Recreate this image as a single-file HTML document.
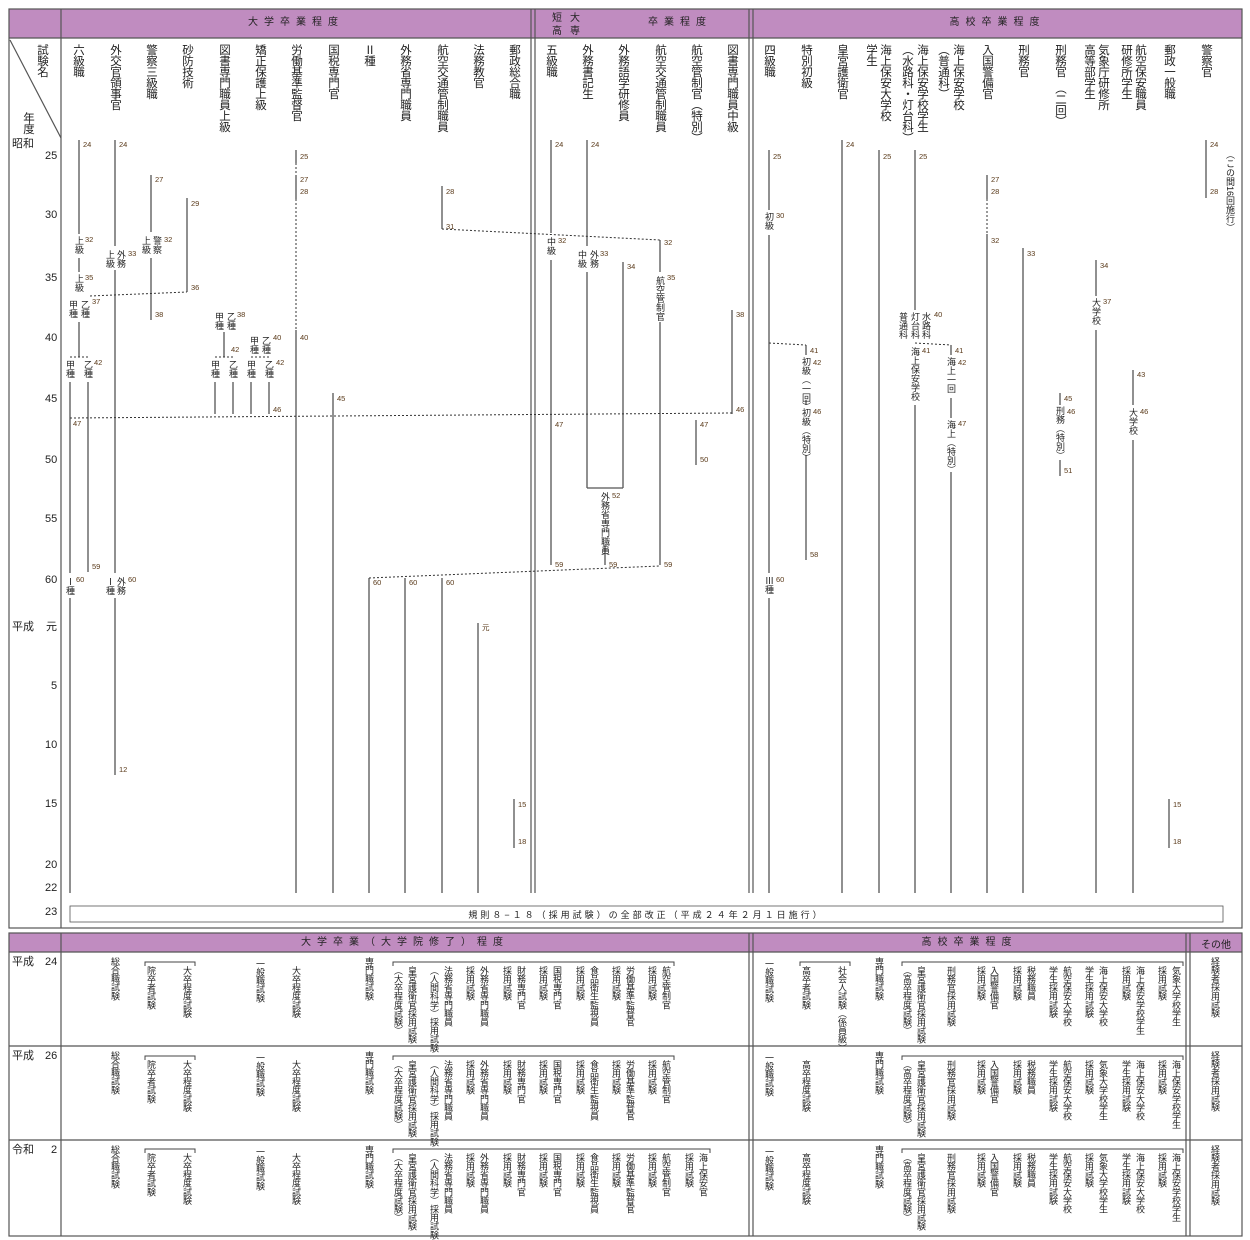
<!DOCTYPE html>
<html><head><meta charset="utf-8"><style>
body{margin:0;background:#fff;width:1250px;height:1240px;position:relative;overflow:hidden;font-family:"Liberation Sans","Noto Sans CJK JP",sans-serif;color:#222}
.a{position:absolute;white-space:nowrap}
.v{position:absolute;writing-mode:vertical-rl;font-size:11.5px;line-height:12px;top:44px;white-space:nowrap;letter-spacing:-0.5px}
.s{position:absolute;writing-mode:vertical-rl;font-size:9px;line-height:9px;white-space:nowrap}
.b{position:absolute;writing-mode:vertical-rl;font-size:9px;line-height:10px;white-space:nowrap;letter-spacing:-0.4px}
.n{position:absolute;font-size:7.5px;line-height:8px;color:#5a3a1a}
.y{position:absolute;font-size:11px;line-height:11px}
.h{position:absolute;font-size:10px;letter-spacing:6px;text-align:center;line-height:12px}
</style></head><body>
<svg width="1250" height="1240" style="position:absolute;left:0;top:0">
<g fill="#c08cc0" stroke="none">
<rect x="9" y="9" width="1233" height="29"/>
<rect x="9" y="933" width="1233" height="19"/>
</g>
<g fill="none" stroke="#555" stroke-width="1.2">
<rect x="9" y="9" width="1233" height="919"/>
<line x1="9" y1="38" x2="1242" y2="38"/>
<line x1="61" y1="9" x2="61" y2="928"/>
<line x1="531" y1="9" x2="531" y2="893"/><line x1="535" y1="9" x2="535" y2="893"/>
<line x1="749" y1="9" x2="749" y2="893"/><line x1="753" y1="9" x2="753" y2="893"/>
<line x1="10" y1="40" x2="61" y2="138"/>
<rect x="70" y="906" width="1153" height="16" stroke-width="0.8"/>
<rect x="9" y="933" width="1233" height="303"/>
<line x1="9" y1="952" x2="1242" y2="952"/>
<line x1="61" y1="933" x2="61" y2="1236"/>
<line x1="749" y1="933" x2="749" y2="1236"/><line x1="753" y1="933" x2="753" y2="1236"/>
<line x1="1186" y1="933" x2="1186" y2="1236"/><line x1="1190" y1="933" x2="1190" y2="1236"/>
<line x1="9" y1="1046" x2="1242" y2="1046"/>
<line x1="9" y1="1140" x2="1242" y2="1140"/>
</g>
<g stroke="#444" stroke-width="1" fill="none">
<polyline points="145,966 145,962 195,962 195,966"/>
<polyline points="145,1060 145,1056 195,1056 195,1060"/>
<polyline points="145,1153 145,1149 195,1149 195,1153"/>
<polyline points="393,966 393,962 674,962 674,966"/>
<polyline points="393,1060 393,1056 674,1056 674,1060"/>
<polyline points="393,1153 393,1149 710,1149 710,1153"/>
<polyline points="800,966 800,962 850,962 850,966"/>
<polyline points="902,966 902,962 1183,962 1183,966"/>
<polyline points="902,1060 902,1056 1183,1056 1183,1060"/>
<polyline points="902,1153 902,1149 1183,1149 1183,1153"/>
</g>
<g stroke="#555" stroke-width="1.3" fill="none">
<line x1="79" y1="140" x2="79" y2="234"/><line x1="79" y1="258" x2="79" y2="272"/>
<line x1="79" y1="322" x2="79" y2="357"/>
<line x1="70" y1="382" x2="70" y2="573"/><line x1="70" y1="598" x2="70" y2="893"/>
<line x1="88" y1="382" x2="88" y2="572"/>
<line x1="115" y1="140" x2="115" y2="246"/><line x1="115" y1="270" x2="115" y2="573"/><line x1="115" y1="598" x2="115" y2="775"/>
<line x1="151" y1="175" x2="151" y2="232"/><line x1="151" y1="258" x2="151" y2="320"/>
<line x1="187" y1="198" x2="187" y2="292"/>
<line x1="224" y1="332" x2="224" y2="357"/>
<line x1="215" y1="382" x2="215" y2="414"/><line x1="233" y1="382" x2="233" y2="414"/>
<line x1="251" y1="382" x2="251" y2="414"/><line x1="269" y1="382" x2="269" y2="414"/>
<line x1="296" y1="150" x2="296" y2="163"/><line x1="296" y1="175" x2="296" y2="199"/>
<line x1="296" y1="330" x2="296" y2="893"/>
<line x1="333" y1="393" x2="333" y2="893"/>
<line x1="369" y1="578" x2="369" y2="893"/>
<line x1="405" y1="578" x2="405" y2="893"/>
<line x1="442" y1="186" x2="442" y2="229"/><line x1="442" y1="578" x2="442" y2="893"/>
<line x1="478" y1="623" x2="478" y2="893"/>
<line x1="514" y1="799" x2="514" y2="848"/>
<line x1="551" y1="140" x2="551" y2="233"/><line x1="551" y1="260" x2="551" y2="565"/>
<line x1="587" y1="140" x2="587" y2="246"/><line x1="587" y1="272" x2="587" y2="488"/>
<line x1="623" y1="262" x2="623" y2="488"/><line x1="587" y1="488" x2="623" y2="488"/>
<line x1="605" y1="545" x2="605" y2="565"/>
<line x1="660" y1="240" x2="660" y2="272"/><line x1="660" y1="322" x2="660" y2="565"/>
<line x1="696" y1="420" x2="696" y2="465"/>
<line x1="732" y1="310" x2="732" y2="414"/>
<line x1="769" y1="150" x2="769" y2="210"/><line x1="769" y1="235" x2="769" y2="573"/><line x1="769" y1="598" x2="769" y2="893"/>
<line x1="806" y1="345" x2="806" y2="355"/><line x1="806" y1="400" x2="806" y2="405"/><line x1="806" y1="455" x2="806" y2="560"/>
<line x1="842" y1="140" x2="842" y2="893"/>
<line x1="879" y1="150" x2="879" y2="893"/>
<line x1="915" y1="150" x2="915" y2="310"/><line x1="915" y1="405" x2="915" y2="893"/>
<line x1="951" y1="345" x2="951" y2="355"/><line x1="951" y1="398" x2="951" y2="418"/><line x1="951" y1="472" x2="951" y2="893"/>
<line x1="987" y1="175" x2="987" y2="199"/><line x1="987" y1="234" x2="987" y2="893"/>
<line x1="1023" y1="248" x2="1023" y2="893"/>
<line x1="1060" y1="393" x2="1060" y2="405"/><line x1="1060" y1="460" x2="1060" y2="476"/>
<line x1="1096" y1="260" x2="1096" y2="296"/><line x1="1096" y1="330" x2="1096" y2="893"/>
<line x1="1133" y1="370" x2="1133" y2="405"/><line x1="1133" y1="440" x2="1133" y2="893"/>
<line x1="1169" y1="799" x2="1169" y2="848"/>
<line x1="1206" y1="140" x2="1206" y2="198"/>
</g>
<g stroke="#333" stroke-width="1" stroke-dasharray="2,2" fill="none">
<line x1="90" y1="296" x2="187" y2="292"/>
<line x1="70" y1="357" x2="88" y2="357"/>
<line x1="215" y1="357" x2="233" y2="357"/>
<line x1="251" y1="357" x2="269" y2="357"/>
<line x1="70" y1="418" x2="732" y2="413"/>
<line x1="296" y1="199" x2="296" y2="330"/>
<line x1="296" y1="163" x2="296" y2="175"/>
<line x1="442" y1="229" x2="660" y2="240"/>
<line x1="369" y1="578" x2="660" y2="566"/>
<line x1="769" y1="343" x2="806" y2="345"/>
<line x1="915" y1="343" x2="951" y2="345"/>
<line x1="987" y1="199" x2="987" y2="234"/>
</g>
</svg>

<div class="h" style="left:61px;top:17px;width:470px">大学卒業程度</div>
<div class="a" style="left:552px;top:12px;font-size:10px;line-height:13px;letter-spacing:8px">短大<br>高専</div>
<div class="h" style="left:620px;top:17px;width:120px">卒業程度</div>
<div class="h" style="left:753px;top:17px;width:489px">高校卒業程度</div>
<div class="v" style="left:36px">試験名</div>
<div class="v" style="left:22px;top:112px">年度</div>
<div class="y" style="left:12px;top:139px">昭和</div>
<div class="y" style="left:45px;top:151px">25</div>
<div class="y" style="left:45px;top:210px">30</div>
<div class="y" style="left:45px;top:273px">35</div>
<div class="y" style="left:45px;top:333px">40</div>
<div class="y" style="left:45px;top:394px">45</div>
<div class="y" style="left:45px;top:455px">50</div>
<div class="y" style="left:45px;top:514px">55</div>
<div class="y" style="left:45px;top:575px">60</div>
<div class="y" style="left:12px;top:622px">平成</div>
<div class="y" style="left:46px;top:622px">元</div>
<div class="y" style="left:51px;top:681px">5</div>
<div class="y" style="left:45px;top:740px">10</div>
<div class="y" style="left:45px;top:799px">15</div>
<div class="y" style="left:45px;top:860px">20</div>
<div class="y" style="left:45px;top:883px">22</div>
<div class="y" style="left:45px;top:907px">23</div>
<div class="a" style="left:70px;top:908px;width:1153px;text-align:center;font-size:9px;letter-spacing:3px">規則８−１８（採用試験）の全部改正（平成２４年２月１日施行）</div>

<div class="v" style="left:72px">六級職</div>
<div class="v" style="left:109px">外交官領事官</div>
<div class="v" style="left:145px">警察三級職</div>
<div class="v" style="left:181px">砂防技術</div>
<div class="v" style="left:218px">図書専門職員上級</div>
<div class="v" style="left:254px">矯正保護上級</div>
<div class="v" style="left:290px">労働基準監督官</div>
<div class="v" style="left:327px">国税専門官</div>
<div class="v" style="left:363px">Ⅱ種</div>
<div class="v" style="left:399px">外務省専門職員</div>
<div class="v" style="left:436px">航空交通管制職員</div>
<div class="v" style="left:472px">法務教官</div>
<div class="v" style="left:508px">郵政総合職</div>
<div class="v" style="left:545px">五級職</div>
<div class="v" style="left:581px">外務書記生</div>
<div class="v" style="left:617px">外務語学研修員</div>
<div class="v" style="left:654px">航空交通管制職員</div>
<div class="v" style="left:690px">航空管制官（特別）</div>
<div class="v" style="left:726px">図書専門職員中級</div>
<div class="v" style="left:763px">四級職</div>
<div class="v" style="left:800px">特別初級</div>
<div class="v" style="left:836px">皇宮護衛官</div>
<div class="v" style="left:865px">学生</div>
<div class="v" style="left:879px">海上保安大学校</div>
<div class="v" style="left:901px">（水路科・灯台科）</div>
<div class="v" style="left:916px">海上保安学校学生</div>
<div class="v" style="left:937px">（普通科）</div>
<div class="v" style="left:952px">海上保安学校</div>
<div class="v" style="left:981px">入国警備官</div>
<div class="v" style="left:1017px">刑務官</div>
<div class="v" style="left:1054px">刑務官　（二回）</div>
<div class="v" style="left:1083px">高等部学生</div>
<div class="v" style="left:1097px">気象庁研修所</div>
<div class="v" style="left:1120px">研修所学生</div>
<div class="v" style="left:1134px">航空保安職員</div>
<div class="v" style="left:1163px">郵政一般職</div>
<div class="v" style="left:1200px">警察官</div>
<div class="s" style="left:1225px;top:150px">（この間16回施行）</div>

<div class="s" style="left:74px;top:236px">上級</div>
<div class="s" style="left:74px;top:274px">上級</div>
<div class="s" style="left:68px;top:300px">甲種</div><div class="s" style="left:80px;top:300px">乙種</div>
<div class="s" style="left:65px;top:360px">甲種</div><div class="s" style="left:83px;top:360px">乙種</div>
<div class="s" style="left:65px;top:577px">Ⅰ種</div>
<div class="s" style="left:105px;top:250px">上級</div><div class="s" style="left:116px;top:250px">外務</div>
<div class="s" style="left:105px;top:577px">Ⅰ種</div><div class="s" style="left:116px;top:577px">外務</div>
<div class="s" style="left:141px;top:236px">上級</div><div class="s" style="left:152px;top:236px">警察</div>
<div class="s" style="left:214px;top:312px">甲種</div><div class="s" style="left:226px;top:312px">乙種</div>
<div class="s" style="left:210px;top:360px">甲種</div><div class="s" style="left:228px;top:360px">乙種</div>
<div class="s" style="left:249px;top:336px">甲種</div><div class="s" style="left:261px;top:336px">乙種</div>
<div class="s" style="left:246px;top:360px">甲種</div><div class="s" style="left:264px;top:360px">乙種</div>
<div class="s" style="left:546px;top:237px">中級</div>
<div class="s" style="left:577px;top:250px">中級</div><div class="s" style="left:589px;top:250px">外務</div>
<div class="s" style="left:600px;top:492px">外務省専門職員</div>
<div class="s" style="left:655px;top:276px">航空管制官</div>
<div class="s" style="left:764px;top:212px">初級</div>
<div class="s" style="left:764px;top:576px">Ⅲ種</div>
<div class="s" style="left:801px;top:357px">初級︵一回︶</div>
<div class="s" style="left:801px;top:408px">初級︵特別︶</div>
<div class="s" style="left:898px;top:312px">普通科</div><div class="s" style="left:910px;top:312px">灯台科</div><div class="s" style="left:921px;top:312px">水路科</div>
<div class="s" style="left:910px;top:347px">海上保安学校</div>
<div class="s" style="left:946px;top:357px">海上一回</div>
<div class="s" style="left:946px;top:420px">海上︵特別︶</div>
<div class="s" style="left:1055px;top:406px">刑務︵特別︶</div>
<div class="s" style="left:1091px;top:298px">大学校</div>
<div class="s" style="left:1128px;top:408px">大学校</div>

<div class="n" style="left:83px;top:141px">24</div><div class="n" style="left:119px;top:141px">24</div>
<div class="n" style="left:85px;top:236px">32</div><div class="n" style="left:85px;top:274px">35</div>
<div class="n" style="left:92px;top:298px">37</div><div class="n" style="left:94px;top:359px">42</div>
<div class="n" style="left:73px;top:420px">47</div><div class="n" style="left:92px;top:563px">59</div>
<div class="n" style="left:76px;top:576px">60</div><div class="n" style="left:128px;top:576px">60</div>
<div class="n" style="left:128px;top:250px">33</div><div class="n" style="left:119px;top:766px">12</div>
<div class="n" style="left:155px;top:176px">27</div><div class="n" style="left:164px;top:236px">32</div><div class="n" style="left:155px;top:311px">38</div>
<div class="n" style="left:191px;top:200px">29</div><div class="n" style="left:191px;top:284px">36</div>
<div class="n" style="left:237px;top:311px">38</div><div class="n" style="left:231px;top:346px">42</div>
<div class="n" style="left:273px;top:334px">40</div><div class="n" style="left:276px;top:359px">42</div><div class="n" style="left:273px;top:406px">46</div>
<div class="n" style="left:300px;top:153px">25</div><div class="n" style="left:300px;top:176px">27</div><div class="n" style="left:300px;top:188px">28</div><div class="n" style="left:300px;top:334px">40</div>
<div class="n" style="left:337px;top:395px">45</div>
<div class="n" style="left:373px;top:579px">60</div><div class="n" style="left:409px;top:579px">60</div><div class="n" style="left:446px;top:579px">60</div>
<div class="n" style="left:446px;top:188px">28</div><div class="n" style="left:446px;top:223px">31</div>
<div class="n" style="left:482px;top:624px">元</div>
<div class="n" style="left:518px;top:801px">15</div><div class="n" style="left:518px;top:838px">18</div>
<div class="n" style="left:555px;top:141px">24</div><div class="n" style="left:558px;top:237px">32</div><div class="n" style="left:555px;top:421px">47</div><div class="n" style="left:555px;top:561px">59</div>
<div class="n" style="left:591px;top:141px">24</div><div class="n" style="left:600px;top:250px">33</div>
<div class="n" style="left:627px;top:263px">34</div><div class="n" style="left:612px;top:492px">52</div><div class="n" style="left:609px;top:561px">59</div>
<div class="n" style="left:664px;top:239px">32</div><div class="n" style="left:667px;top:274px">35</div><div class="n" style="left:664px;top:561px">59</div>
<div class="n" style="left:700px;top:421px">47</div><div class="n" style="left:700px;top:456px">50</div>
<div class="n" style="left:736px;top:311px">38</div><div class="n" style="left:736px;top:406px">46</div>
<div class="n" style="left:773px;top:153px">25</div><div class="n" style="left:776px;top:212px">30</div><div class="n" style="left:776px;top:576px">60</div>
<div class="n" style="left:810px;top:347px">41</div><div class="n" style="left:813px;top:359px">42</div><div class="n" style="left:813px;top:408px">46</div><div class="n" style="left:810px;top:551px">58</div>
<div class="n" style="left:846px;top:141px">24</div><div class="n" style="left:883px;top:153px">25</div><div class="n" style="left:919px;top:153px">25</div>
<div class="n" style="left:934px;top:311px">40</div><div class="n" style="left:922px;top:347px">41</div>
<div class="n" style="left:955px;top:347px">41</div><div class="n" style="left:958px;top:359px">42</div><div class="n" style="left:958px;top:420px">47</div>
<div class="n" style="left:991px;top:176px">27</div><div class="n" style="left:991px;top:188px">28</div><div class="n" style="left:991px;top:237px">32</div>
<div class="n" style="left:1027px;top:250px">33</div>
<div class="n" style="left:1064px;top:395px">45</div><div class="n" style="left:1067px;top:408px">46</div><div class="n" style="left:1064px;top:467px">51</div>
<div class="n" style="left:1100px;top:262px">34</div><div class="n" style="left:1103px;top:298px">37</div>
<div class="n" style="left:1137px;top:371px">43</div><div class="n" style="left:1140px;top:408px">46</div>
<div class="n" style="left:1173px;top:801px">15</div><div class="n" style="left:1173px;top:838px">18</div>
<div class="n" style="left:1210px;top:141px">24</div><div class="n" style="left:1210px;top:188px">28</div>

<div class="h" style="left:61px;top:937px;width:688px">大学卒業（大学院修了）程度</div>
<div class="h" style="left:753px;top:937px;width:433px">高校卒業程度</div>
<div class="a" style="left:1190px;top:936px;width:52px;text-align:center;font-size:10px">その他</div>
<div class="y" style="left:12px;top:957px">平成</div><div class="y" style="left:45px;top:957px">24</div>
<div class="y" style="left:12px;top:1051px">平成</div><div class="y" style="left:45px;top:1051px">26</div>
<div class="y" style="left:12px;top:1145px">令和</div><div class="y" style="left:51px;top:1145px">2</div>

<div class="b" style="left:110px;top:957px">総合職試験</div><div class="b" style="left:146px;top:966px">院卒者試験</div><div class="b" style="left:182px;top:966px">大卒程度試験</div>
<div class="b" style="left:255px;top:959px">一般職試験</div><div class="b" style="left:291px;top:966px">大卒程度試験</div><div class="b" style="left:364px;top:957px">専門職試験</div>
<div class="b" style="left:393px;top:966px">（大卒程度試験）</div><div class="b" style="left:407px;top:966px">皇宮護衛官採用試験</div>
<div class="b" style="left:429px;top:966px">（人間科学）採用試験</div><div class="b" style="left:443px;top:966px">法務省専門職員</div>
<div class="b" style="left:465px;top:966px">採用試験</div><div class="b" style="left:479px;top:966px">外務省専門職員</div>
<div class="b" style="left:502px;top:966px">採用試験</div><div class="b" style="left:516px;top:966px">財務専門官</div>
<div class="b" style="left:538px;top:966px">採用試験</div><div class="b" style="left:552px;top:966px">国税専門官</div>
<div class="b" style="left:575px;top:966px">採用試験</div><div class="b" style="left:589px;top:966px">食品衛生監視員</div>
<div class="b" style="left:611px;top:966px">採用試験</div><div class="b" style="left:625px;top:966px">労働基準監督官</div>
<div class="b" style="left:647px;top:966px">採用試験</div><div class="b" style="left:661px;top:966px">航空管制官</div>
<div class="b" style="left:764px;top:959px">一般職試験</div><div class="b" style="left:801px;top:966px">高卒者試験</div><div class="b" style="left:837px;top:966px">社会人試験（係員級）</div>
<div class="b" style="left:874px;top:957px">専門職試験</div>
<div class="b" style="left:902px;top:966px">（高卒程度試験）</div><div class="b" style="left:916px;top:966px">皇宮護衛官採用試験</div>
<div class="b" style="left:946px;top:966px">刑務官採用試験</div>
<div class="b" style="left:976px;top:966px">採用試験</div><div class="b" style="left:989px;top:966px">入国警備官</div>
<div class="b" style="left:1012px;top:966px">採用試験</div><div class="b" style="left:1026px;top:966px">税務職員</div>
<div class="b" style="left:1048px;top:966px">学生採用試験</div><div class="b" style="left:1062px;top:966px">航空保安大学校</div>
<div class="b" style="left:1084px;top:966px">学生採用試験</div><div class="b" style="left:1098px;top:966px">海上保安大学校</div>
<div class="b" style="left:1121px;top:966px">採用試験</div><div class="b" style="left:1135px;top:966px">海上保安学校学生</div>
<div class="b" style="left:1157px;top:966px">採用試験</div><div class="b" style="left:1171px;top:966px">気象大学校学生</div>
<div class="b" style="left:1210px;top:957px">経験者採用試験</div>

<div class="b" style="left:110px;top:1051px">総合職試験</div><div class="b" style="left:146px;top:1060px">院卒者試験</div><div class="b" style="left:182px;top:1060px">大卒程度試験</div>
<div class="b" style="left:255px;top:1053px">一般職試験</div><div class="b" style="left:291px;top:1060px">大卒程度試験</div><div class="b" style="left:364px;top:1051px">専門職試験</div>
<div class="b" style="left:393px;top:1060px">（大卒程度試験）</div><div class="b" style="left:407px;top:1060px">皇宮護衛官採用試験</div>
<div class="b" style="left:429px;top:1060px">（人間科学）採用試験</div><div class="b" style="left:443px;top:1060px">法務省専門職員</div>
<div class="b" style="left:465px;top:1060px">採用試験</div><div class="b" style="left:479px;top:1060px">外務省専門職員</div>
<div class="b" style="left:502px;top:1060px">採用試験</div><div class="b" style="left:516px;top:1060px">財務専門官</div>
<div class="b" style="left:538px;top:1060px">採用試験</div><div class="b" style="left:552px;top:1060px">国税専門官</div>
<div class="b" style="left:575px;top:1060px">採用試験</div><div class="b" style="left:589px;top:1060px">食品衛生監視員</div>
<div class="b" style="left:611px;top:1060px">採用試験</div><div class="b" style="left:625px;top:1060px">労働基準監督官</div>
<div class="b" style="left:647px;top:1060px">採用試験</div><div class="b" style="left:661px;top:1060px">航空管制官</div>
<div class="b" style="left:764px;top:1053px">一般職試験</div><div class="b" style="left:801px;top:1060px">高卒程度試験</div>
<div class="b" style="left:874px;top:1051px">専門職試験</div>
<div class="b" style="left:902px;top:1060px">（高卒程度試験）</div><div class="b" style="left:916px;top:1060px">皇宮護衛官採用試験</div>
<div class="b" style="left:946px;top:1060px">刑務官採用試験</div>
<div class="b" style="left:976px;top:1060px">採用試験</div><div class="b" style="left:989px;top:1060px">入国警備官</div>
<div class="b" style="left:1012px;top:1060px">採用試験</div><div class="b" style="left:1026px;top:1060px">税務職員</div>
<div class="b" style="left:1048px;top:1060px">学生採用試験</div><div class="b" style="left:1062px;top:1060px">航空保安大学校</div>
<div class="b" style="left:1084px;top:1060px">採用試験</div><div class="b" style="left:1098px;top:1060px">気象大学校学生</div>
<div class="b" style="left:1121px;top:1060px">学生採用試験</div><div class="b" style="left:1135px;top:1060px">海上保安大学校</div>
<div class="b" style="left:1157px;top:1060px">採用試験</div><div class="b" style="left:1171px;top:1060px">海上保安学校学生</div>
<div class="b" style="left:1210px;top:1051px">経験者採用試験</div>

<div class="b" style="left:110px;top:1145px">総合職試験</div><div class="b" style="left:146px;top:1153px">院卒者試験</div><div class="b" style="left:182px;top:1153px">大卒程度試験</div>
<div class="b" style="left:255px;top:1147px">一般職試験</div><div class="b" style="left:291px;top:1153px">大卒程度試験</div><div class="b" style="left:364px;top:1145px">専門職試験</div>
<div class="b" style="left:393px;top:1153px">（大卒程度試験）</div><div class="b" style="left:407px;top:1153px">皇宮護衛官採用試験</div>
<div class="b" style="left:429px;top:1153px">（人間科学）採用試験</div><div class="b" style="left:443px;top:1153px">法務省専門職員</div>
<div class="b" style="left:465px;top:1153px">採用試験</div><div class="b" style="left:479px;top:1153px">外務省専門職員</div>
<div class="b" style="left:502px;top:1153px">採用試験</div><div class="b" style="left:516px;top:1153px">財務専門官</div>
<div class="b" style="left:538px;top:1153px">採用試験</div><div class="b" style="left:552px;top:1153px">国税専門官</div>
<div class="b" style="left:575px;top:1153px">採用試験</div><div class="b" style="left:589px;top:1153px">食品衛生監視員</div>
<div class="b" style="left:611px;top:1153px">採用試験</div><div class="b" style="left:625px;top:1153px">労働基準監督官</div>
<div class="b" style="left:647px;top:1153px">採用試験</div><div class="b" style="left:661px;top:1153px">航空管制官</div>
<div class="b" style="left:684px;top:1153px">採用試験</div><div class="b" style="left:698px;top:1153px">海上保安官</div>
<div class="b" style="left:764px;top:1147px">一般職試験</div><div class="b" style="left:801px;top:1153px">高卒程度試験</div>
<div class="b" style="left:874px;top:1145px">専門職試験</div>
<div class="b" style="left:902px;top:1153px">（高卒程度試験）</div><div class="b" style="left:916px;top:1153px">皇宮護衛官採用試験</div>
<div class="b" style="left:946px;top:1153px">刑務官採用試験</div>
<div class="b" style="left:976px;top:1153px">採用試験</div><div class="b" style="left:989px;top:1153px">入国警備官</div>
<div class="b" style="left:1012px;top:1153px">採用試験</div><div class="b" style="left:1026px;top:1153px">税務職員</div>
<div class="b" style="left:1048px;top:1153px">学生採用試験</div><div class="b" style="left:1062px;top:1153px">航空保安大学校</div>
<div class="b" style="left:1084px;top:1153px">採用試験</div><div class="b" style="left:1098px;top:1153px">気象大学校学生</div>
<div class="b" style="left:1121px;top:1153px">学生採用試験</div><div class="b" style="left:1135px;top:1153px">海上保安大学校</div>
<div class="b" style="left:1157px;top:1153px">採用試験</div><div class="b" style="left:1171px;top:1153px">海上保安学校学生</div>
<div class="b" style="left:1210px;top:1145px">経験者採用試験</div>
</body></html>
